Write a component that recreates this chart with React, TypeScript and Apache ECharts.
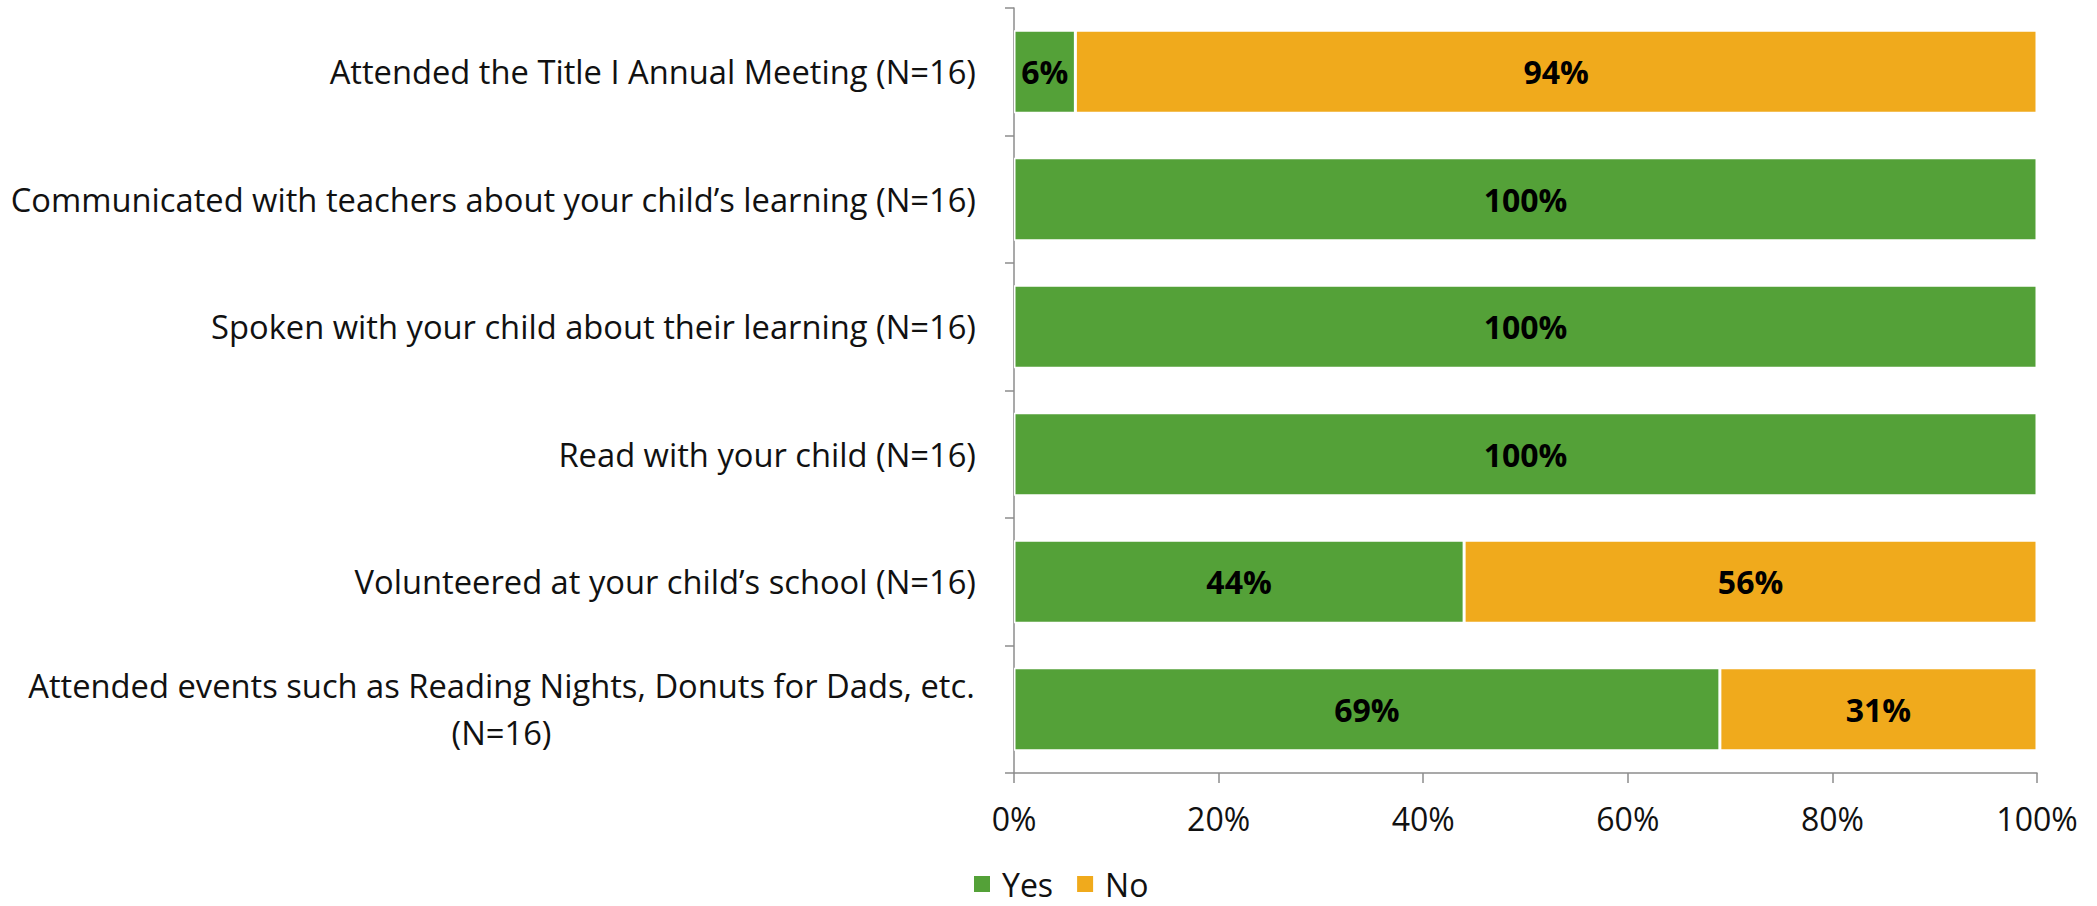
import React, { useEffect, useRef } from 'react';
import * as echarts from 'echarts';

const categories = [
  'Attended the Title I Annual Meeting (N=16)',
  'Communicated with teachers about your child\u2019s learning (N=16)',
  'Spoken with your child about their learning (N=16)',
  'Read with your child (N=16)',
  'Volunteered at your child\u2019s school (N=16)',
  'Attended events such as Reading Nights, Donuts for Dads, etc.\n(N=16)',
];
const yesValues = [6, 100, 100, 100, 44, 69];
const noValues = [94, 0, 0, 0, 56, 31];
const seriesNames = ['Yes', 'No'];
const xTickValues = [0, 20, 40, 60, 80, 100];

const FONT = 'Open Sans';
const CAT_FS = 32.7;
const FS = 32;
const GREEN = '#54A138';
const ORANGE = '#F0AA1C';
const AXIS = '#8C8C8C';
const TEXT = '#111';

function measure(text: string): number {
  const c = document.createElement('canvas').getContext('2d');
  if (!c) return text.length * CAT_FS * 0.55;
  c.font = `${CAT_FS}px "${FONT}"`;
  return c.measureText(text).width;
}

export default function App() {
  const ref = useRef<HTMLDivElement>(null);
  useEffect(() => {
    if (!ref.current) return;
    const chart = echarts.init(ref.current, null, { renderer: 'svg' });
    const multiW = Math.ceil(Math.max(...categories[5].split('\n').map(measure))) + 2;
    const valueLabel = {
      show: true,
      position: 'inside',
      formatter: (p: any) => (p.value ? `${p.value}%` : ''),
      fontSize: FS,
      fontWeight: 'bold',
      color: '#000',
      fontFamily: FONT,
    };
    chart.setOption({
      animation: false,
      textStyle: { fontFamily: FONT },
      grid: { left: 1014, right: 60, top: 8, bottom: 133, containLabel: false },
      legend: {
        data: seriesNames,
        left: 972,
        top: 868,
        padding: 0,
        itemWidth: 18,
        itemHeight: 18,
        itemGap: 22,
        icon: 'rect',
        textStyle: { fontFamily: FONT, fontSize: FS, color: TEXT, lineHeight: 32, padding: [0, 0, 0, 6] },
      },
      xAxis: {
        type: 'value',
        min: xTickValues[0],
        max: xTickValues[xTickValues.length - 1],
        interval: 20,
        splitLine: { show: false },
        axisLine: { show: true, lineStyle: { color: AXIS, width: 1.5 } },
        axisTick: { show: true, length: 10, lineStyle: { color: AXIS, width: 1.5 } },
        axisLabel: { formatter: '{value}%', fontSize: FS, color: TEXT, margin: 29, fontFamily: FONT },
      },
      yAxis: {
        type: 'category',
        inverse: true,
        data: categories,
        axisLine: { show: true, lineStyle: { color: AXIS, width: 1.5 } },
        axisTick: { show: true, length: 9, lineStyle: { color: AXIS, width: 1.5 } },
        axisLabel: {
          fontSize: CAT_FS,
          color: TEXT,
          margin: 38,
          fontFamily: FONT,
          lineHeight: 47,
          formatter: (v: string) => {
            if (v.includes('\n')) {
              return v.split('\n').map((l) => `{c|${l}}`).join('\n');
            }
            return v;
          },
          rich: {
            c: { width: multiW, align: 'center', fontSize: CAT_FS, fontFamily: FONT, color: TEXT, lineHeight: 47 },
          },
        },
      },
      series: [
        {
          name: seriesNames[0],
          type: 'bar',
          stack: 'total',
          data: yesValues,
          barWidth: '65%',
          itemStyle: { color: GREEN, borderColor: '#fff', borderWidth: 1.5 },
          label: valueLabel,
        },
        {
          name: seriesNames[1],
          type: 'bar',
          stack: 'total',
          data: noValues,
          barWidth: '65%',
          itemStyle: { color: ORANGE, borderColor: '#fff', borderWidth: 1.5 },
          label: valueLabel,
        },
      ],
    });
    return () => chart.dispose();
  }, []);
  return (
    <div
      ref={ref}
      style={{ position: 'fixed', left: 0, top: 0, width: 2097, height: 906, background: '#fff' }}
    />
  );
}
